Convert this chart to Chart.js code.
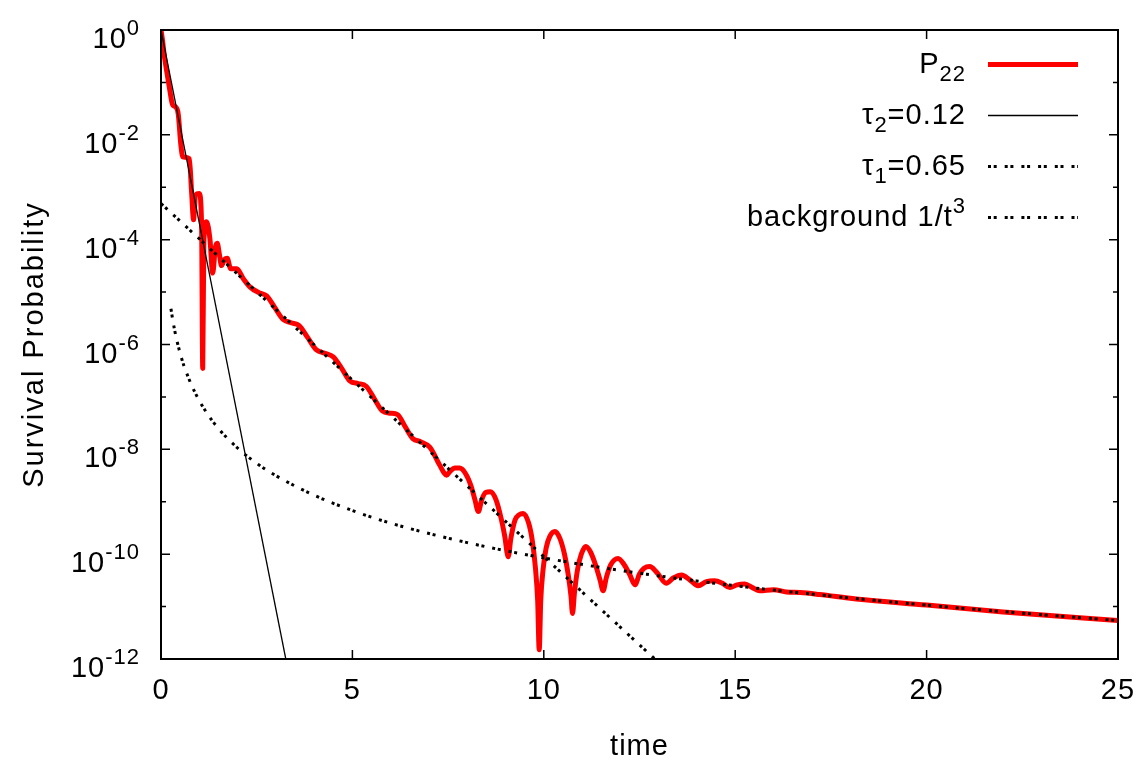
<!DOCTYPE html>
<html>
<head>
<meta charset="utf-8">
<title>Survival Probability</title>
<script src="https://cdn.jsdelivr.net/npm/chart.js@4.4.0/dist/chart.umd.min.js"></script>
<style>
  html, body { margin: 0; padding: 0; background: #fff; }
  #wrap { width: 1140px; height: 761px; }
</style>
</head>
<body>
<div id="wrap"><canvas id="survivalChart" width="1140" height="761"></canvas></div>
<script>
// P22 (time, probability)
var p22Time = [
    0, 0.04, 0.08, 0.14, 0.22, 0.3, 0.38, 0.45, 0.52, 0.57, 0.74, 0.8, 0.85, 0.9, 1.0,
    1.06, 1.09, 1.12, 1.19, 1.28, 1.35, 1.42, 1.47, 1.53, 1.58, 1.66, 1.73, 1.82, 1.98, 2.15, 2.32,
    2.55, 2.76, 2.97, 3.19, 3.4, 3.61, 3.82, 4.06, 4.28, 4.5, 4.72, 4.94, 5.15, 5.36, 5.57,
    5.78, 5.98, 6.18, 6.38, 6.58, 6.78, 7.02,
    7.28, 7.4, 7.46, 7.55, 7.68, 7.8, 7.95, 8.1, 8.2, 8.29, 8.38, 8.48, 8.6, 8.75, 8.88,
    8.98, 9.07, 9.14, 9.25, 9.35, 9.46, 9.6, 9.7, 9.78, 9.84, 9.88, 9.92, 9.98, 10.06, 10.16,
    10.29, 10.42, 10.54, 10.64, 10.71, 10.75, 10.8, 10.88, 10.98, 11.1, 11.22, 11.35, 11.47, 11.55, 11.63,
    11.75, 11.94, 12.1, 12.25, 12.38, 12.5, 12.62, 12.77, 12.95, 13.2, 13.38, 13.6, 13.82, 14.03, 14.25,
    14.46, 14.66, 14.86, 15.05, 15.25, 15.45, 15.64, 16.0, 16.34, 16.7, 17.2, 18.16, 20, 22, 25
];
var p22Value = [
    1, 6.3e-1, 3.5e-1, 1.8e-1, 7.9e-2, 3.8e-2, 3.4e-2, 2.5e-2, 6.3e-3, 3.8e-3, 3.5e-3, 7.9e-4, 2.4e-4, 7.1e-4, 7.6e-4,
    2.0e-4, 3.5e-7, 1.0e-4, 2.2e-4, 1.0e-4, 2.3e-5, 7.1e-5, 8.5e-5, 5.0e-5, 3.2e-5, 4.2e-5, 4.4e-5, 2.8e-5, 2.8e-5, 1.8e-5, 1.26e-5,
    9.8e-6, 8.5e-6, 5.1e-6, 3.0e-6, 2.6e-6, 2.3e-6, 1.4e-6, 7.9e-7, 6.8e-7, 5.8e-7, 3.5e-7, 2.0e-7, 1.8e-7, 1.6e-7, 9.3e-8,
    5.4e-8, 4.9e-8, 4.6e-8, 2.7e-8, 1.6e-8, 1.4e-8, 1.1e-8,
    5.0e-9, 3.5e-9, 3.2e-9, 3.8e-9, 4.4e-9, 4.4e-9, 3.5e-9, 2.0e-9, 1.1e-9, 6.5e-10, 1.1e-9, 1.5e-9, 1.55e-9, 1.1e-9, 5.0e-10,
    2.2e-10, 8.9e-11, 2.0e-10, 4.5e-10, 5.6e-10, 6.0e-10, 4.0e-10, 1.8e-10, 5.6e-11, 1.3e-11, 1.5e-12, 1.3e-11, 5.0e-11, 1.3e-10, 2.2e-10,
    2.7e-10, 2.0e-10, 1.0e-10, 4.0e-11, 1.6e-11, 7.4e-12, 1.8e-11, 5.0e-11, 1.0e-10, 1.4e-10, 1.1e-10, 6.3e-11, 3.2e-11, 2.0e-11, 3.5e-11,
    6.3e-11, 8.3e-11, 6.3e-11, 4.0e-11, 2.6e-11, 4.2e-11, 5.4e-11, 5.8e-11, 4.5e-11, 2.8e-11, 3.5e-11, 4.0e-11, 3.2e-11, 2.5e-11, 3.0e-11,
    3.1e-11, 2.8e-11, 2.3e-11, 2.6e-11, 2.7e-11, 2.3e-11, 2.0e-11, 2.1e-11, 1.9e-11, 1.85e-11, 1.7e-11, 1.4e-11, 1.07e-11, 7.9e-12, 5.4e-12
];

// fitted exponentials (straight on the log axis)
var tau2Time = [0, 3.26];
var tau2Value = [1, 1e-12];
var tau1Time = [0, 12.9];
var tau1Value = [4.9e-4, 1e-12];

// background 1/t^3
var bgTime = [0.26, 0.3, 0.35, 0.4, 0.5, 0.6, 0.7, 0.8, 1.0, 1.2, 1.5, 2, 2.5, 3, 4, 5, 6, 8, 10, 12, 15, 18, 21, 25];
var bgValue = [4.8e-6, 3.15e-6, 1.98e-6, 1.33e-6, 6.8e-7, 3.9e-7, 2.5e-7, 1.66e-7, 8.5e-8, 4.9e-8, 2.5e-8, 1.06e-8,
    5.4e-9, 3.15e-9, 1.33e-9, 6.8e-10, 3.9e-10, 1.66e-10, 8.5e-11, 4.9e-11, 2.5e-11, 1.46e-11, 9.2e-12, 5.4e-12];

var seriesLabels = ["P_{22}", "\u03c4_{2}=0.12", "\u03c4_{1}=0.65", "background 1/t^{3}"];
var yAxisTitle = "Survival Probability";
var xAxisTitle = "time";

var xTicks = [0, 5, 10, 15, 20, 25];
var yMajorTicks = [1, 1e-2, 1e-4, 1e-6, 1e-8, 1e-10, 1e-12];
var yMajorLabels = ["10^{0}", "10^{-2}", "10^{-4}", "10^{-6}", "10^{-8}", "10^{-10}", "10^{-12}"];
var yMinorTicks = [1e-1, 1e-3, 1e-5, 1e-7, 1e-9, 1e-11];

var FONT = "'Liberation Sans', Arial, Helvetica, sans-serif";
var mainFont = "29px " + FONT;
var smallFont = "22px " + FONT;

function toPoints(xs, ys) {
    return xs.map(function (x, i) {
        return { x: x, y: ys[i] };
    });
}

// split "10^{-2}" / "P_{22}" into plain, super and sub pieces
function richParts(str) {
    var parts = [];
    var re = /([_^])\{([^}]*)\}/g;
    var last = 0, m;
    while ((m = re.exec(str))) {
        if (m.index > last) parts.push({ t: str.slice(last, m.index), k: "" });
        parts.push({ t: m[2], k: m[1] });
        last = re.lastIndex;
    }
    if (last < str.length) parts.push({ t: str.slice(last), k: "" });
    return parts;
}

// right aligned at x, baseline y
function drawRich(ctx, str, x, y) {
    var parts = richParts(str);
    var total = 0;
    parts.forEach(function (p) {
        ctx.font = p.k ? smallFont : mainFont;
        p.w = ctx.measureText(p.t).width;
        total += p.w;
    });
    var cx = x - total;
    parts.forEach(function (p) {
        ctx.font = p.k ? smallFont : mainFont;
        var dy = p.k === "^" ? -13 : (p.k === "_" ? 8 : 0);
        ctx.fillText(p.t, cx, y + dy);
        cx += p.w;
    });
}

// gnuplot style border, inward ticks, y labels and key
var gnuplotFrame = {
    id: "gnuplotFrame",
    beforeDraw: function (chart) {
        chart.ctx.letterSpacing = "1px";
    },
    afterDraw: function (chart) {
        var ctx = chart.ctx;
        var area = chart.chartArea;
        var xs = chart.scales.x;
        var ys = chart.scales.y;

        ctx.save();
        ctx.setLineDash([]);
        ctx.strokeStyle = "#000";
        ctx.lineWidth = 1.5;
        ctx.beginPath();
        xTicks.forEach(function (v) {
            var px = xs.getPixelForValue(v);
            ctx.moveTo(px, area.bottom);
            ctx.lineTo(px, area.bottom - 9);
            ctx.moveTo(px, area.top);
            ctx.lineTo(px, area.top + 9);
        });
        yMajorTicks.forEach(function (v) {
            var py = ys.getPixelForValue(v);
            ctx.moveTo(area.left, py);
            ctx.lineTo(area.left + 9, py);
            ctx.moveTo(area.right, py);
            ctx.lineTo(area.right - 9, py);
        });
        yMinorTicks.forEach(function (v) {
            var py = ys.getPixelForValue(v);
            ctx.moveTo(area.left, py);
            ctx.lineTo(area.left + 5, py);
            ctx.moveTo(area.right, py);
            ctx.lineTo(area.right - 5, py);
        });
        ctx.stroke();

        ctx.lineWidth = 2;
        ctx.strokeRect(area.left, area.top, area.right - area.left, area.bottom - area.top);

        // y tick labels
        ctx.fillStyle = "#000";
        ctx.textAlign = "left";
        ctx.textBaseline = "alphabetic";
        ctx.letterSpacing = "1px";
        yMajorTicks.forEach(function (v, i) {
            drawRich(ctx, yMajorLabels[i], 140, ys.getPixelForValue(v) + 18);
        });

        // y axis title
        ctx.save();
        ctx.translate(35, (area.top + area.bottom) / 2);
        ctx.rotate(-Math.PI / 2);
        ctx.textAlign = "center";
        ctx.textBaseline = "middle";
        ctx.font = mainFont;
        ctx.letterSpacing = "2px";
        ctx.fillText(yAxisTitle, 0, 0);
        ctx.restore();

        // key
        ctx.letterSpacing = "1px";
        chart.data.datasets.forEach(function (ds, i) {
            var rowY = 64.5 + i * 51;
            drawRich(ctx, ds.label, 966, rowY + 8);
            ctx.beginPath();
            ctx.strokeStyle = ds.borderColor;
            ctx.lineWidth = ds.borderWidth;
            ctx.setLineDash(ds.borderDash || []);
            ctx.moveTo(988, rowY);
            ctx.lineTo(1078, rowY);
            ctx.stroke();
        });
        ctx.restore();
    },
};

Chart.defaults.font.family = FONT;
Chart.defaults.color = "#000";

var dotted = [3, 2.7, 3, 8];

var chart = new Chart(document.getElementById("survivalChart"), {
    type: "line",
    data: {
        datasets: [
            {
                label: seriesLabels[0],
                data: toPoints(p22Time, p22Value),
                borderColor: "#ff0000",
                borderWidth: 5,
                cubicInterpolationMode: "monotone",
                order: 3,
            },
            {
                label: seriesLabels[1],
                data: toPoints(tau2Time, tau2Value),
                borderColor: "#000000",
                borderWidth: 1.3,
                order: 0,
            },
            {
                label: seriesLabels[2],
                data: toPoints(tau1Time, tau1Value),
                borderColor: "#000000",
                borderWidth: 3,
                borderDash: dotted,
                order: 1,
            },
            {
                label: seriesLabels[3],
                data: toPoints(bgTime, bgValue),
                borderColor: "#000000",
                borderWidth: 3,
                borderDash: dotted,
                cubicInterpolationMode: "monotone",
                order: 2,
            },
        ],
    },
    options: {
        responsive: false,
        animation: false,
        elements: {
            point: { radius: 0 },
            line: { fill: false, borderCapStyle: "butt", borderJoinStyle: "round" },
        },
        layout: { padding: { left: 0, top: 30, right: 22, bottom: 0 } },
        plugins: {
            legend: { display: false },
            tooltip: { enabled: false },
        },
        scales: {
            x: {
                type: "linear",
                min: 0,
                max: 25,
                grid: { display: false, drawTicks: false },
                border: { display: false },
                ticks: { padding: 15, font: { size: 29 }, color: "#000", maxRotation: 0 },
                afterBuildTicks: function (scale) {
                    scale.ticks = xTicks.map(function (v) {
                        return { value: v };
                    });
                },
                title: {
                    display: true,
                    text: xAxisTitle,
                    font: { size: 29, lineHeight: 1 },
                    color: "#000",
                    padding: { top: 0, bottom: 0 },
                },
                afterFit: function (scale) {
                    scale.height = 102;
                    scale.paddingLeft = 0;
                    scale.paddingRight = 0;
                },
            },
            y: {
                type: "logarithmic",
                min: 1e-12,
                max: 1,
                grid: { display: false, drawTicks: false },
                border: { display: false },
                ticks: { display: false },
                title: { display: false },
                afterFit: function (scale) {
                    scale.width = 161;
                },
            },
        },
    },
    plugins: [gnuplotFrame],
});
</script>
</body>
</html>
